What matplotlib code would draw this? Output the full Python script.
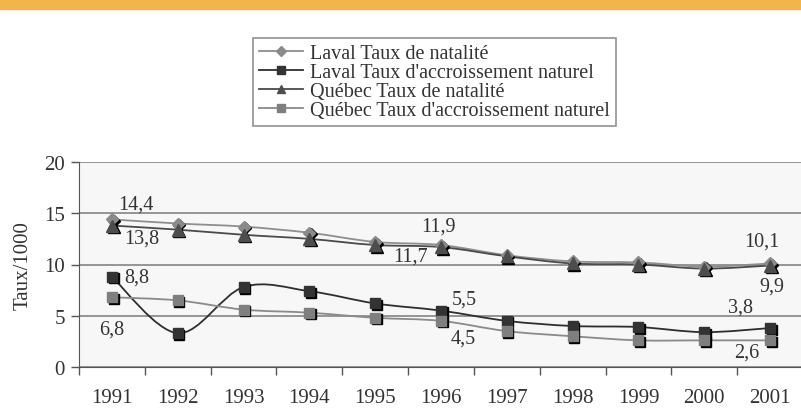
import numpy as np
import matplotlib.pyplot as plt
from matplotlib.path import Path
from matplotlib.patches import PathPatch, Rectangle
from matplotlib.lines import Line2D
from matplotlib.transforms import offset_copy

plt.rcParams['font.family'] = ['Liberation Serif', 'DejaVu Serif']

# data
years = ['1991', '1992', '1993', '1994', '1995', '1996', '1997', '1998', '1999', '2000', '2001']
laval_nat = [14.4, 14.0, 13.7, 13.1, 12.2, 11.9, 10.9, 10.3, 10.2, 9.8, 10.1]
laval_acc = [8.8, 3.3, 7.8, 7.4, 6.2, 5.5, 4.5, 4.0, 3.9, 3.4, 3.8]
quebec_nat = [13.8, 13.4, 12.9, 12.5, 11.9, 11.7, 10.8, 10.1, 10.0, 9.6, 9.9]
quebec_acc = [6.8, 6.5, 5.6, 5.3, 4.8, 4.5, 3.5, 3.0, 2.6, 2.6, 2.6]

series = [
    ('Laval Taux de natalité', laval_nat, '#8e8e8e', '#8a8a8a', 'D', 6.5),
    ("Laval Taux d'accroissement naturel", laval_acc, '#2e2e2e', '#333333', 's', 7),
    ('Québec Taux de natalité', quebec_nat, '#4a4a4a', '#4d4d4d', '^', 8),
    ("Québec Taux d'accroissement naturel", quebec_acc, '#8a8a8a', '#7f7f7f', 's', 7),
]

# which points carry a label, and where (offset in pixels)
# order: laval nat, quebec nat, laval acc, quebec acc
label_pos = {
    0: [(24, 15), (30, -12), (25, 0), (0, -32)],
    5: [(-3, 19), (-30, -9), (23, 12), (22, -17)],
    10: [(-8, 22), (2, -21), (-30, 21), (-23, -12)],
}
label_series = [0, 2, 1, 3]


def smooth_path(xs, ys):
    # excel style smoothed line, cubic bezier segments
    pts = list(zip(xs, ys))
    n = len(pts)
    verts = [pts[0]]
    codes = [Path.MOVETO]
    for i in range(n - 1):
        p0 = pts[i - 1] if i > 0 else pts[i]
        p1 = pts[i]
        p2 = pts[i + 1]
        p3 = pts[i + 2] if i + 2 < n else pts[i + 1]
        c1 = (p1[0] + (p2[0] - p0[0]) / 6, p1[1] + (p2[1] - p0[1]) / 6)
        c2 = (p2[0] - (p3[0] - p1[0]) / 6, p2[1] - (p3[1] - p1[1]) / 6)
        verts += [c1, c2, p2]
        codes += [Path.CURVE4] * 3
    return Path(verts, codes)


fig = plt.figure(figsize=(8.01, 4.10), dpi=100)
fig.patches.append(Rectangle((0, 1 - 10 / 410), 1, 10 / 410, transform=fig.transFigure,
                             color='#F2B54B', zorder=0))

ax = fig.add_axes([79 / 801, 42 / 410, 724 / 801, 205 / 410])
ax.set_facecolor('#f7f7f7')
x = np.arange(len(years))
shadow = offset_copy(ax.transData, fig=fig, x=1.6, y=-1.6, units='dots')

handles = []
for name, vals, lc, mc, mk, ms in series:
    ax.add_patch(PathPatch(smooth_path(x, vals), fill=False, edgecolor=lc, lw=1.3, zorder=3))
    ax.plot(x, vals, ls='none', marker=mk, ms=ms, color='black', mec='black', transform=shadow, zorder=4)
    ax.plot(x, vals, ls='none', marker=mk, ms=ms, color=mc, mec=mc, zorder=5)
    handles.append(Line2D([], [], color=lc, lw=1.3, marker=mk, ms=ms * 0.8, mfc=mc, mec=mc))

for idx, offs in label_pos.items():
    for s, (dx, dy) in zip(label_series, offs):
        v = series[s][1][idx]
        ax.annotate(f'{v:.1f}'.replace('.', ','), (x[idx], v), xytext=(dx, dy),
                    textcoords='offset pixels', ha='center', va='center',
                    fontsize=14.5, color='#333333', zorder=6)

ax.set_xlim(-0.5, len(years) - 0.5)
ax.set_ylim(0, 20)
ax.set_yticks([0, 5, 10, 15, 20])
ax.set_xticks(x)
ax.set_xticklabels(years)
ax.set_xticks(np.arange(-0.5, len(years), 1), minor=True)
ax.tick_params(axis='x', which='major', length=0, pad=15, labelsize=15, colors='#333333')
ax.tick_params(axis='x', which='minor', length=6, width=1, color='#555555')
ax.tick_params(axis='y', length=6, width=1, color='#555555', labelsize=15, labelcolor='#333333', pad=4)
ax.grid(axis='y', color='#7a7a7a', lw=1.1)
ax.set_axisbelow(True)
for s in ['top', 'right']:
    ax.spines[s].set_visible(False)
ax.spines['left'].set_color('#555555')
ax.spines['bottom'].set_color('#555555')
ax.set_ylabel('Taux/1000', fontsize=15, color='#333333', labelpad=8)

leg = fig.legend(handles, [s[0] for s in series], loc='upper left',
                 bbox_to_anchor=(253 / 801, 1 - 39 / 410), fontsize=14.5,
                 frameon=True, fancybox=False, edgecolor='#777777', handlelength=2.2,
                 handletextpad=0.35, labelspacing=0.0, borderpad=0.3, borderaxespad=0)
leg.get_frame().set_linewidth(1.2)
for t in leg.get_texts():
    t.set_color('#333333')

fig.savefig('out.png', dpi=100)
